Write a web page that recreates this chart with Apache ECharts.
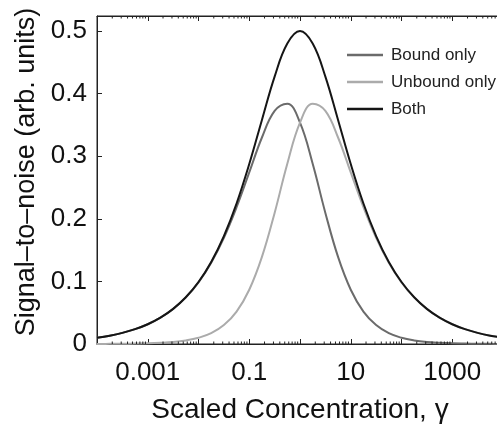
<!DOCTYPE html>
<html>
<head>
<meta charset="utf-8">
<script src="https://cdn.jsdelivr.net/npm/echarts@6/dist/echarts.min.js"></script>
<style>html,body{margin:0;padding:0;background:#fff;}#chart{width:497px;height:429px;}</style>
</head>
<body>
<div id="chart"></div>
<script>
// Data
var gamma = [0.0001,0.0001778,0.0003162,0.0005623,0.001,0.001778,0.003162,0.005623,0.01,0.01778,0.03162,0.05623,0.1,0.1778,0.3162,0.5623,1,1.778,3.162,5.623,10,17.78,31.62,56.23,100,177.8,316.2,562.3,1000,1778,3162,5623,10000];
var boundOnly = [0.0100,0.0133,0.0178,0.0237,0.0316,0.0421,0.0560,0.0744,0.0985,0.1299,0.1697,0.2185,0.2741,0.3299,0.3724,0.3840,0.3536,0.2880,0.2094,0.1391,0.0867,0.0518,0.0302,0.0173,0.0099,0.0056,0.0031,0.0018,0.0010,0.0006,0.0003,0.0002,0.0001];
var unboundOnly = [0.0001,0.0002,0.0003,0.0006,0.0010,0.0018,0.0031,0.0056,0.0099,0.0173,0.0302,0.0518,0.0867,0.1391,0.2094,0.2880,0.3536,0.3840,0.3724,0.3299,0.2741,0.2185,0.1697,0.1299,0.0985,0.0744,0.0560,0.0421,0.0316,0.0237,0.0178,0.0133,0.0100];
var both = [0.0100,0.0133,0.0178,0.0237,0.0316,0.0421,0.0561,0.0746,0.0990,0.1310,0.1724,0.2245,0.2875,0.3580,0.4272,0.4800,0.5000,0.4800,0.4272,0.3580,0.2875,0.2245,0.1724,0.1310,0.0990,0.0746,0.0561,0.0421,0.0316,0.0237,0.0178,0.0133,0.0100];
var seriesNames = ['Bound only','Unbound only','Both'];
var xTickValues = [0.001, 0.1, 10, 1000];
var xTickLabels = ['0.001', '0.1', '10', '1000'];
var minorTickValues = [];
[0.0001,0.001,0.01,0.1,1,10,100,1000].forEach(function(d){
  [2,3,4,5,6,7,8,9].forEach(function(k){ minorTickValues.push(+(d*k).toPrecision(6)); });
});
var xMin = 0.0001, xMax = 10000, yMin = 0, yMax = 0.524;

function pairs(xs, ys){ return xs.map(function(x,i){ return [x, ys[i]]; }); }

var FONT = 'Liberation Sans, Arial, Helvetica, sans-serif';
var chart = echarts.init(document.getElementById('chart'), null, {renderer:'canvas'});
chart.setOption({
  backgroundColor: '#ffffff',
  animation: false,
  grid: {left: 97, top: 16, bottom: 85, right: -6, show: true, borderColor: '#222', borderWidth: 1,
         outerBoundsMode: 'none', containLabel: false},
  legend: {
    orient: 'vertical', left: 347, top: 45, padding: 0,
    itemWidth: 36, itemHeight: 2.5, itemGap: 7, icon: 'rect',
    data: seriesNames,
    textStyle: {fontFamily: FONT, fontSize: 17, color: '#222', lineHeight: 20, padding: [0,0,0,3]}
  },
  xAxis: [{
    type: 'log', min: xMin, max: xMax, logBase: 10, splitNumber: 8,
    name: 'Scaled Concentration, \u03b3', nameLocation: 'middle', nameGap: 52,
    nameTextStyle: {fontFamily: FONT, fontSize: 28, color: '#111'},
    axisLine: {show: true, onZero: false, lineStyle: {color: '#222', width: 1}},
    axisTick: {show: true, inside: true, length: 5, lineStyle: {color: '#222'}},
    splitLine: {show: false},
    axisLabel: {
      fontFamily: FONT, fontSize: 26, color: '#111', margin: 16,
      showMinLabel: true, showMaxLabel: true,
      formatter: function(v){
        for (var i = 0; i < xTickValues.length; i++) {
          if (Math.abs(Math.log10(v) - Math.log10(xTickValues[i])) < 1e-6) return xTickLabels[i];
        }
        return '';
      }
    }
  },{
    type: 'log', min: xMin, max: xMax, logBase: 10, splitNumber: 8, position: 'top',
    axisLine: {show: true, onZero: false, lineStyle: {color: '#222', width: 1}},
    axisTick: {show: true, inside: true, length: 5, lineStyle: {color: '#222'}},
    axisLabel: {show: false}, splitLine: {show: false}
  }],
  yAxis: {
    type: 'value', min: yMin, max: yMax, interval: 0.1,
    name: 'Signal\u2013to\u2013noise (arb. units)', nameLocation: 'middle', nameGap: 56,
    nameTextStyle: {fontFamily: FONT, fontSize: 27, color: '#111', padding: [0,0,0,16]},
    axisLine: {show: true, onZero: false, lineStyle: {color: '#222', width: 1}},
    axisTick: {show: true, inside: true, length: 5, lineStyle: {color: '#222'}},
    splitLine: {show: false},
    axisLabel: {fontFamily: FONT, fontSize: 26, color: '#111', margin: 10, showMaxLabel: false,
      formatter: function(v){ return v > 0.5001 ? '' : String(+v.toFixed(1)); }}
  },
  series: [
    {name: seriesNames[0], type: 'line', data: pairs(gamma, boundOnly), smooth: 0.4, showSymbol: false,
     lineStyle: {width: 2, color: '#6b6b6b'}, itemStyle: {color: '#6b6b6b'}, z: 3},
    {name: seriesNames[1], type: 'line', data: pairs(gamma, unboundOnly), smooth: 0.4, showSymbol: false,
     lineStyle: {width: 2, color: '#ababab'}, itemStyle: {color: '#ababab'}, z: 3},
    {name: seriesNames[2], type: 'line', data: pairs(gamma, both), smooth: 0.4, showSymbol: false,
     lineStyle: {width: 2, color: '#151515'}, itemStyle: {color: '#151515'}, z: 4},
    {type: 'custom', silent: true, z: 5,
     data: minorTickValues.map(function(v){ return [v, 0]; }),
     renderItem: function(params, api){
       var v = api.value(0);
       var b = api.coord([v, yMin]);
       var t = api.coord([v, yMax]);
       return {type: 'group', children: [
         {type: 'line', shape: {x1: b[0], y1: b[1], x2: b[0], y2: b[1] - 2.5}, style: {stroke: '#222', lineWidth: 1}},
         {type: 'line', shape: {x1: t[0], y1: t[1], x2: t[0], y2: t[1] + 2.5}, style: {stroke: '#222', lineWidth: 1}}
       ]};
     }}
  ]
});
</script>
</body>
</html>
